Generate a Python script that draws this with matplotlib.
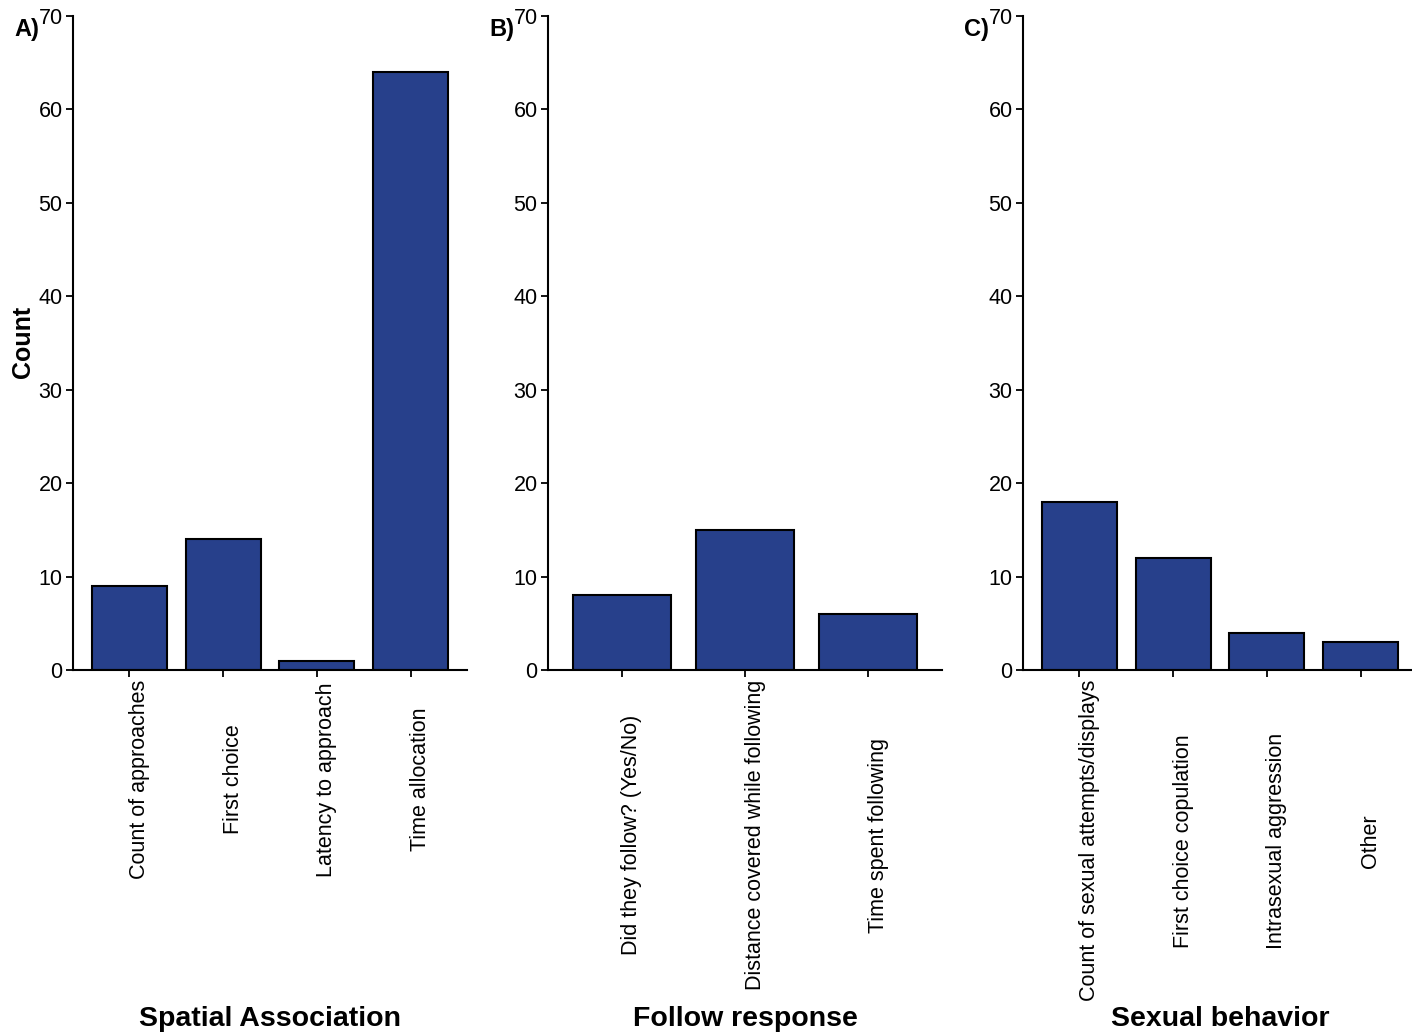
import matplotlib
matplotlib.use("Agg")
import matplotlib.pyplot as plt
from matplotlib.transforms import ScaledTranslation

plt.rcParams['font.family'] = ['Liberation Sans', 'DejaVu Sans']

# Measures recorded in each behavioural category
spatial_labels = ["Count of approaches", "First choice", "Latency to approach", "Time allocation"]
spatial_counts = [9, 14, 1, 64]

follow_labels = ["Did they follow? (Yes/No)", "Distance covered while following", "Time spent following"]
follow_counts = [8, 15, 6]

sexual_labels = ["Count of sexual attempts/displays", "First choice copulation",
                 "Intrasexual aggression", "Other"]
sexual_counts = [18, 12, 4, 3]

panel_titles = ["Spatial Association", "Follow response", "Sexual behavior"]
panel_tags = ["A)", "B)", "C)"]
y_ticks = [0, 10, 20, 30, 40, 50, 60, 70]

bar_color = "#27408B"
DPI = 100

fig = plt.figure(figsize=(14.12, 10.35), dpi=DPI)
W, H = 1412, 1035
lefts = [73, 548, 1023]
ax_w = 394
top_px, bottom_px = 16, 670

panels = [(spatial_labels, spatial_counts), (follow_labels, follow_counts),
          (sexual_labels, sexual_counts)]

label_groups = []
for i, ((labels, counts), title, tag) in enumerate(zip(panels, panel_titles, panel_tags)):
    ax = fig.add_axes([lefts[i] / W, 1 - bottom_px / H, ax_w / W, (bottom_px - top_px) / H])
    x = list(range(len(labels)))
    ax.bar(x, counts, width=0.8, color=bar_color, edgecolor="black", linewidth=1.5, zorder=2)
    ax.set_xlim(-0.6, len(labels) - 0.4)
    ax.set_ylim(0, 70)
    ax.set_yticks(y_ticks)
    ax.set_xticks(x)
    ax.set_xticklabels([])
    ax.tick_params(axis="both", direction="out", length=5, width=1.3, labelsize=15.5,
                   color="black", labelcolor="black")
    ax.tick_params(axis="y", pad=2.5)
    for side in ["top", "right"]:
        ax.spines[side].set_visible(False)
    for side in ["left", "bottom"]:
        ax.spines[side].set_linewidth(1.5)
        ax.spines[side].set_color("black")

    # category names, rotated and centred on a common line below the axis
    texts = []
    for xi, lab in zip(x, labels):
        t = ax.text(xi, 0, lab, rotation=90, ha="center", va="center", fontsize=15.5,
                    transform=ax.get_xaxis_transform())
        texts.append(t)
    label_groups.append((ax, texts))

    fig.text((lefts[i] + ax_w / 2) / W, 1 - 1019 / H, title, ha="center", va="center",
             fontsize=20.5, fontweight="bold")
    fig.text((lefts[i] - 34) / W, 1 - 36 / H, tag, ha="right", va="baseline",
             fontsize=17, fontweight="bold")

fig.text(23 / W, 1 - 342 / H, "Count", rotation=90, ha="center", va="center",
         fontsize=18, fontweight="bold")

fig.canvas.draw()
renderer = fig.canvas.get_renderer()
for ax, texts in label_groups:
    longest = max(t.get_window_extent(renderer).height for t in texts)
    dy = (10 + longest / 2) / DPI
    dx = 10 / DPI
    for t in texts:
        t.set_transform(ax.get_xaxis_transform()
                        + ScaledTranslation(dx, -dy, fig.dpi_scale_trans))

fig.savefig("out.png", dpi=DPI, facecolor="white")
